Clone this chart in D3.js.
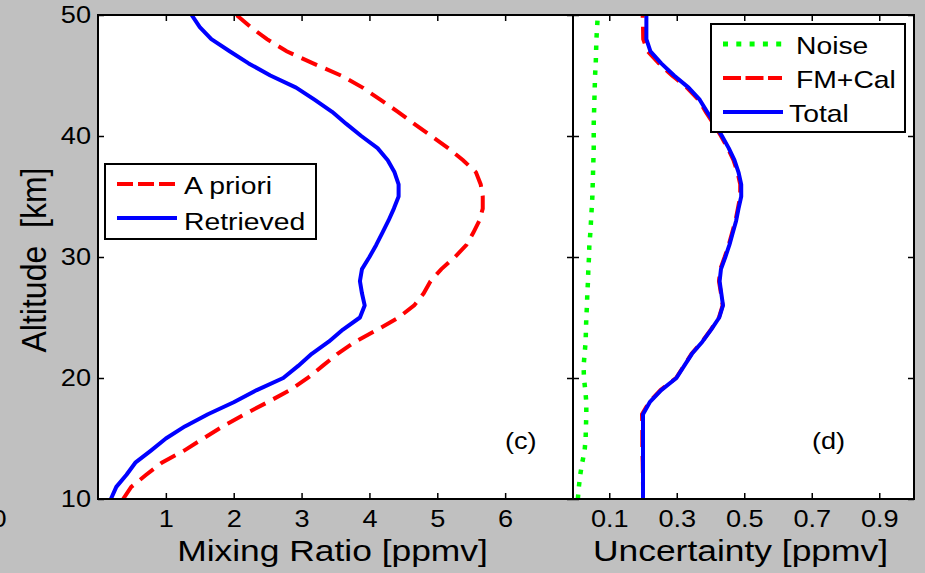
<!DOCTYPE html>
<html>
<head>
<meta charset="utf-8">
<script src="https://cdn.jsdelivr.net/npm/d3@7"></script>
<style>
  html, body { margin: 0; padding: 0; background: #c0c0c0; }
  svg { display: block; font-family: "Liberation Sans", Arial, Helvetica, sans-serif; }
</style>
</head>
<body>
<svg id="fig" width="925" height="573"></svg>
<script>
// ---- data: ozone profile (c) and its uncertainty budget (d), 10-50 km ----
const altitude = [10, 11, 12, 13, 14, 15, 16, 17, 18, 19, 20, 21, 22, 23, 24, 25, 26, 27, 28, 29,
                  30, 31, 32, 33, 34, 35, 36, 37, 38, 39, 40, 41, 42, 43, 44, 45, 46, 47, 48, 49, 50];

const aPriori = [0.37, 0.49, 0.71, 0.94, 1.27, 1.55, 1.84, 2.16, 2.50, 2.83, 3.09, 3.31, 3.53, 3.79, 4.12,
                 4.43, 4.66, 4.80, 4.90, 5.06, 5.26, 5.43, 5.53, 5.62, 5.67, 5.67, 5.64, 5.57, 5.38, 5.16,
                 4.91, 4.66, 4.42, 4.16, 3.90, 3.58, 3.17, 2.78, 2.49, 2.25, 2.04];

const retrieved = [0.19, 0.27, 0.42, 0.55, 0.78, 1.00, 1.28, 1.62, 2.00, 2.34, 2.73, 2.95, 3.15, 3.40, 3.61,
                   3.86, 3.93, 3.89, 3.86, 3.89, 4.00, 4.10, 4.19, 4.28, 4.36, 4.43, 4.43, 4.37, 4.27, 4.12,
                   3.88, 3.66, 3.45, 3.19, 2.92, 2.54, 2.22, 1.94, 1.67, 1.50, 1.38];

const noiseErr = [0.007, 0.010, 0.014, 0.020, 0.027, 0.030, 0.031, 0.032, 0.032, 0.029, 0.025, 0.024, 0.027,
                  0.030, 0.031, 0.032, 0.034, 0.035, 0.037, 0.038, 0.040, 0.041, 0.044, 0.046, 0.048, 0.050,
                  0.051, 0.052, 0.053, 0.054, 0.054, 0.054, 0.055, 0.056, 0.057, 0.058, 0.060, 0.061, 0.062,
                  0.064, 0.066];

const fmCalErr = [0.200, 0.200, 0.1995, 0.199, 0.198, 0.198, 0.198, 0.197, 0.218, 0.252, 0.298, 0.321, 0.344,
                  0.375, 0.401, 0.425, 0.436, 0.431, 0.425, 0.429, 0.442, 0.454, 0.464, 0.474, 0.481, 0.488,
                  0.488, 0.480, 0.468, 0.451, 0.431, 0.409, 0.386, 0.364, 0.330, 0.286, 0.247, 0.2135, 0.2006,
                  0.200, 0.199];

const totalErr = [0.200, 0.200, 0.200, 0.200, 0.200, 0.200, 0.200, 0.200, 0.220, 0.254, 0.299, 0.322, 0.345,
                  0.376, 0.402, 0.426, 0.437, 0.432, 0.427, 0.431, 0.444, 0.456, 0.466, 0.476, 0.483, 0.491,
                  0.491, 0.483, 0.471, 0.454, 0.434, 0.413, 0.390, 0.368, 0.335, 0.292, 0.254, 0.222, 0.210,
                  0.210, 0.210];

const altTicks = [10, 20, 30, 40, 50];
const mixTicks = [1, 2, 3, 4, 5, 6];
const uncTicks = [0.1, 0.3, 0.5, 0.7, 0.9];

// ---- layout ----
const SX = 1.18;                       // horizontal stretch applied to text
const yTop = 15, yBottom = 499;
const leftL = 98, rightL = 573;        // mixing ratio panel
const leftR = 573, rightR = 914;       // uncertainty panel

const y = d3.scaleLinear().domain([10, 50]).range([yBottom, yTop]);
const xL = d3.scaleLinear().domain([0, 7]).range([leftL, rightL]);
const xR = d3.scaleLinear().domain([0, 1]).range([575.5, 913]);

const svg = d3.select("#fig");
svg.append("rect").attr("width", 925).attr("height", 573).attr("fill", "#c0c0c0");

const defs = svg.append("defs");
defs.append("clipPath").attr("id", "clipL").append("rect")
  .attr("x", leftL).attr("y", yTop).attr("width", rightL - leftL).attr("height", yBottom - yTop);
defs.append("clipPath").attr("id", "clipR").append("rect")
  .attr("x", leftR).attr("y", yTop).attr("width", rightR - leftR).attr("height", yBottom - yTop);

// panel backgrounds
svg.append("rect").attr("x", leftL).attr("y", yTop).attr("width", rightL - leftL)
  .attr("height", yBottom - yTop).attr("fill", "#fff");
svg.append("rect").attr("x", leftR).attr("y", yTop).attr("width", rightR - leftR)
  .attr("height", yBottom - yTop).attr("fill", "#fff");

function txt(g, x, yy, s, size, anchor, sx = SX) {
  return g.append("text")
    .attr("transform", `translate(${x},${yy}) scale(${sx},1)`)
    .attr("text-anchor", anchor)
    .attr("font-size", size)
    .attr("fill", "#000")
    .text(s);
}

const profile = (xs, vals) => d3.line()
  .x((d, i) => xs(vals[i]))
  .y(d => y(d));

// ---- panel (c): profiles ----
const gL = svg.append("g").attr("clip-path", "url(#clipL)");
gL.append("path").datum(altitude)
  .attr("d", profile(xL, aPriori))
  .attr("fill", "none").attr("stroke", "#ff0000").attr("stroke-width", 4)
  .attr("stroke-dasharray", "17,9");
gL.append("path").datum(altitude)
  .attr("d", profile(xL, retrieved))
  .attr("fill", "none").attr("stroke", "#0000ff").attr("stroke-width", 4)
  .attr("stroke-linejoin", "round");

// ---- panel (d): uncertainties ----
const gR = svg.append("g").attr("clip-path", "url(#clipR)");
gR.append("path").datum(altitude)
  .attr("d", profile(xR, noiseErr))
  .attr("fill", "none").attr("stroke", "#00ff00").attr("stroke-width", 4.5)
  .attr("stroke-dasharray", "4.5,8");
gR.append("path").datum(altitude)
  .attr("d", profile(xR, fmCalErr))
  .attr("fill", "none").attr("stroke", "#ff0000").attr("stroke-width", 4)
  .attr("stroke-dasharray", "17,9");
gR.append("path").datum(altitude)
  .attr("d", profile(xR, totalErr))
  .attr("fill", "none").attr("stroke", "#0000ff").attr("stroke-width", 4)
  .attr("stroke-linejoin", "round");

// ---- axes ----
function styleAxis(g) {
  g.select(".domain").remove();
  g.selectAll(".tick line").attr("stroke", "#000").attr("stroke-width", 1.5);
  g.selectAll(".tick text").attr("fill", "#000").attr("font-size", 23)
    .attr("font-family", "Liberation Sans, Arial, sans-serif");
}

// left panel
svg.append("g").attr("transform", `translate(0,${yBottom})`)
  .call(d3.axisBottom(xL).tickValues(mixTicks).tickSizeInner(-6).tickSizeOuter(0).tickPadding(12).tickFormat(d3.format("d")))
  .call(styleAxis)
  .call(g => g.selectAll(".tick text").attr("transform", `scale(${SX},1)`));
svg.append("g").attr("transform", `translate(0,${yTop})`)
  .call(d3.axisTop(xL).tickValues(mixTicks).tickSizeInner(-6).tickSizeOuter(0).tickFormat(""))
  .call(styleAxis);
svg.append("g").attr("transform", `translate(${leftL},0)`)
  .call(d3.axisLeft(y).tickValues(altTicks).tickSizeInner(-6).tickSizeOuter(0).tickPadding(7).tickFormat(d3.format("d")))
  .call(styleAxis)
  .call(g => g.selectAll(".tick text").attr("x", null)
    .attr("transform", `translate(-7,0) scale(${SX},1)`));
svg.append("g").attr("transform", `translate(${rightL},0)`)
  .call(d3.axisRight(y).tickValues(altTicks).tickSizeInner(-6).tickSizeOuter(0).tickFormat(""))
  .call(styleAxis);

// right panel
svg.append("g").attr("transform", `translate(0,${yBottom})`)
  .call(d3.axisBottom(xR).tickValues(uncTicks).tickSizeInner(-6).tickSizeOuter(0).tickPadding(12).tickFormat(d3.format(".1f")))
  .call(styleAxis)
  .call(g => g.selectAll(".tick text").attr("transform", `scale(${SX},1)`));
svg.append("g").attr("transform", `translate(0,${yTop})`)
  .call(d3.axisTop(xR).tickValues(uncTicks).tickSizeInner(-6).tickSizeOuter(0).tickFormat(""))
  .call(styleAxis);
svg.append("g").attr("transform", `translate(${leftR},0)`)
  .call(d3.axisRight(y).tickValues(altTicks).tickSizeInner(6).tickSizeOuter(0).tickFormat(""))
  .call(styleAxis);
svg.append("g").attr("transform", `translate(${rightR},0)`)
  .call(d3.axisLeft(y).tickValues(altTicks).tickSizeInner(6).tickSizeOuter(0).tickFormat(""))
  .call(styleAxis);

// panel frames
svg.append("rect").attr("x", leftL).attr("y", yTop).attr("width", rightL - leftL)
  .attr("height", yBottom - yTop).attr("fill", "none").attr("stroke", "#000").attr("stroke-width", 2);
svg.append("rect").attr("x", leftR).attr("y", yTop).attr("width", rightR - leftR)
  .attr("height", yBottom - yTop).attr("fill", "none").attr("stroke", "#000").attr("stroke-width", 2);

// ---- text ----
const gT = svg.append("g");
txt(gT, 6.5, 527, "0", 23, "end");
txt(gT, (leftL + rightL) / 2 - 3, 561, "Mixing Ratio [ppmv]", 30, "middle");
txt(gT, (leftR + rightR) / 2 - 3, 561, "Uncertainty [ppmv]", 30, "middle");
gT.append("text")
  .attr("transform", "translate(46,260) rotate(-90) scale(1,1.09)")
  .attr("text-anchor", "middle").attr("font-size", 32).attr("fill", "#000")
  .style("white-space", "pre")
  .text("Altitude  [km]");
txt(gT, 505, 449, "(c)", 23, "start");
txt(gT, 812, 449, "(d)", 23, "start");

// ---- legends ----
const legL = svg.append("g");
legL.append("rect").attr("x", 105).attr("y", 164).attr("width", 211).attr("height", 75)
  .attr("fill", "#fff").attr("stroke", "#000").attr("stroke-width", 2);
legL.append("line").attr("x1", 117).attr("x2", 177).attr("y1", 184).attr("y2", 184)
  .attr("stroke", "#ff0000").attr("stroke-width", 4).attr("stroke-dasharray", "16,5");
legL.append("line").attr("x1", 117).attr("x2", 177).attr("y1", 218).attr("y2", 218)
  .attr("stroke", "#0000ff").attr("stroke-width", 4);
txt(legL, 184, 194, "A priori", 24, "start");
txt(legL, 184, 230, "Retrieved", 24, "start");

const legR = svg.append("g");
legR.append("rect").attr("x", 711).attr("y", 24).attr("width", 194).attr("height", 108)
  .attr("fill", "#fff").attr("stroke", "#000").attr("stroke-width", 2);
legR.append("line").attr("x1", 723).attr("x2", 782).attr("y1", 44).attr("y2", 44)
  .attr("stroke", "#00ff00").attr("stroke-width", 5).attr("stroke-dasharray", "5,8.3");
legR.append("line").attr("x1", 723).attr("x2", 782).attr("y1", 78).attr("y2", 78)
  .attr("stroke", "#ff0000").attr("stroke-width", 4).attr("stroke-dasharray", "18,4.5");
legR.append("line").attr("x1", 723).attr("x2", 783).attr("y1", 112).attr("y2", 112)
  .attr("stroke", "#0000ff").attr("stroke-width", 4);
txt(legR, 796, 54, "Noise", 24, "start");
txt(legR, 796, 88, "FM+Cal", 24, "start");
txt(legR, 789, 122, "Total", 24, "start");
</script>
</body>
</html>
